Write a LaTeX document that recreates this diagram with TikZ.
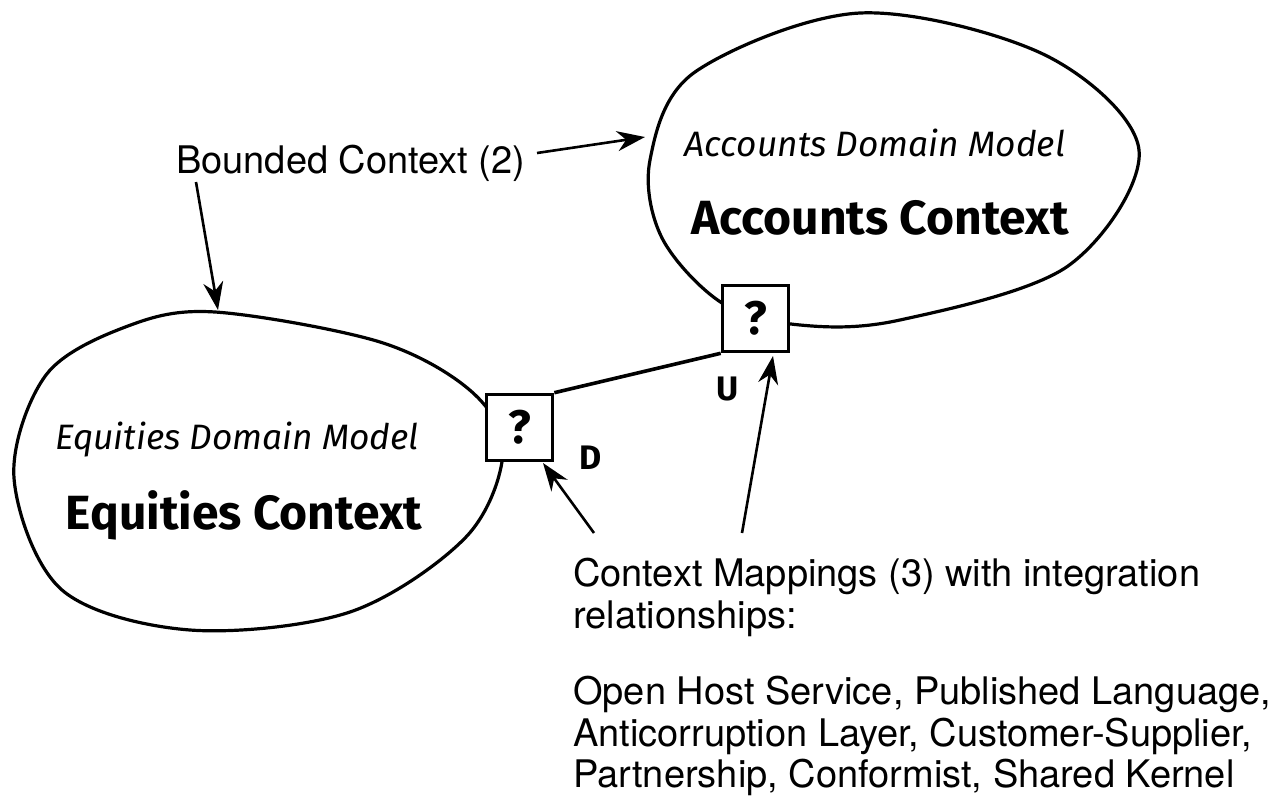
\documentclass[tikz,border=0pt]{standalone}
\usepackage{fontspec}
\setmainfont{TeX Gyre Heros}
\newfontfamily\comic{Fira Sans}
\usetikzlibrary{arrows.meta}
\tikzset{
  x=1pt, y=-1pt,
  blob/.style={line width=3.2pt, line join=round},
  qbox/.style={draw, line width=3.6pt, fill=white, minimum width=66pt, minimum height=66pt, inner sep=0pt, font=\comic\bfseries\fontsize{47}{47}\selectfont},
  lbl/.style={inner sep=0pt, font=\fontsize{38}{41.5}\selectfont},
  dmodel/.style={inner sep=0pt, font=\comic\itshape\fontsize{35.3}{40}\selectfont},
  ctx/.style={inner sep=0pt, font=\comic\bfseries\fontsize{48}{52}\selectfont},
  ud/.style={inner sep=0pt, font=\comic\bfseries\fontsize{34}{36}\selectfont},
  ptr/.style={line width=2.6pt, -{Stealth[length=28pt, width=20pt, inset=9pt]}},
  link/.style={line width=3.6pt}
}
\begin{document}
\begin{tikzpicture}
\useasboundingbox (0,0) rectangle (1282,800);
% Accounts blob
\draw[blob] plot[smooth cycle, tension=0.55] coordinates {
  (860,13) (1045,55) (1139,150) (1068,266) (900,320)
  (800,325) (722,303) (662,238) (650,160) (695,72)};
% Equities blob
\draw[blob] plot[smooth cycle, tension=0.55] coordinates {
  (215,312) (380,342) (472,392) (503,452) (466,537)
  (350,612) (190,630) (62,590) (14,478) (46,375) (128,326)};
\coordinate (acblob) at (645,137);
\coordinate (eqblob) at (218,310);
% boxes
\node[qbox] (acbox) at (755.5,318.5) {?};
\node[qbox] (eqbox) at (519.5,427.5) {?};
\draw[link] (eqbox.north east) -- (acbox.south west);
% texts in blobs
\node[dmodel] (acdm) at (875,143) {Accounts Domain Model};
\node[ctx] (acctx) at (880,218) {Accounts Context};
\node[dmodel] (eqdm) at (237,440) {Equities Domain Model};
\node[ctx] (eqctx) at (244,515) {Equities Context};
\node[ud] (u) at (728,389) {U};
\node[ud] (d) at (591,458) {D};
% labels
\node[lbl, anchor=base west] (bc) at (176,173) {Bounded Context (2)};
\node[lbl, anchor=north west, align=left] (cm) at (573,558) {Context Mappings (3) with integration\\relationships:\\[35pt]Open Host Service, Published Language,\\Anticorruption Layer, Customer-Supplier,\\Partnership, Conformist, Shared Kernel};
\coordinate (bcr) at (537,153);
\coordinate (bcl) at (196,182);
\coordinate (cml) at (594,533);
\coordinate (cmr) at (742,533);
\coordinate (eqtip) at (543,463);
\coordinate (actip) at (773,356);
\draw[ptr] (bcr) -- (acblob);
\draw[ptr] (bcl) -- (eqblob);
\draw[ptr] (cml) -- (eqtip);
\draw[ptr] (cmr) -- (actip);
\end{tikzpicture}
\end{document}
